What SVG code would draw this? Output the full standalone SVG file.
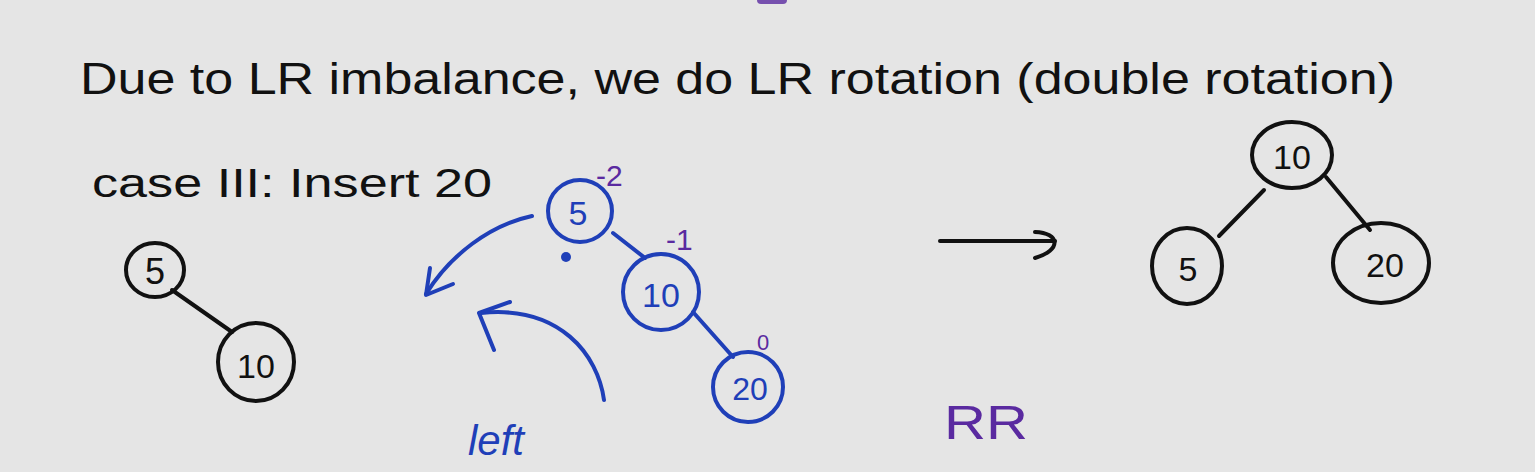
<svg xmlns="http://www.w3.org/2000/svg" width="1535" height="472" viewBox="0 0 1535 472">
<defs>
<style>
.bg{fill:#e5e5e5}
.k{fill:none;stroke:#111;stroke-width:4;stroke-linecap:round}
.b{fill:none;stroke:#1f3fb8;stroke-width:4;stroke-linecap:round;stroke-linejoin:round}
.tk{font-family:"Liberation Sans",Arial,sans-serif;fill:#111}
.tb{font-family:"Liberation Sans",Arial,sans-serif;fill:#1f3fb8}
.tp{font-family:"Liberation Sans",Arial,sans-serif;fill:#5a2aa0}
</style>
</defs>
<rect class="bg" width="1535" height="472"/>
<rect x="757" y="-6" width="30" height="10" rx="4" fill="#5a2aa0" opacity="0.8"/>
<text class="tk" x="80" y="94" font-size="44" textLength="1315" lengthAdjust="spacingAndGlyphs">Due to LR imbalance, we do LR rotation (double rotation)</text>
<text class="tk" x="92" y="197" font-size="40" textLength="400" lengthAdjust="spacingAndGlyphs">case III: Insert 20</text>
<g id="connectors">
<line class="k" x1="172" y1="290" x2="232" y2="332"/>
<line class="b" x1="613" y1="233" x2="645" y2="258"/>
<line class="b" x1="693" y1="312" x2="733" y2="357"/>
<line class="k" x1="1264" y1="190" x2="1219" y2="236"/>
<line class="k" x1="1326" y1="177" x2="1370" y2="230"/>
<path class="b" d="M532,216 C490,225 450,255 426,294"/>
<path class="b" d="M430,268 L426,295 L453,284"/>
<path class="b" d="M604,400 C598,355 560,305 481,313"/>
<path class="b" d="M510,302 L479,313 L494,350"/>
<path class="k" d="M940,241 L1055,241"/>
<path class="k" d="M1035,232 C1060,233 1062,250 1035,258"/>
</g>
<g id="n5a"><ellipse class="k" cx="155" cy="270" rx="29" ry="27"/><text class="tk" x="155" y="284" font-size="36" text-anchor="middle">5</text></g>
<g id="n10a"><ellipse class="k" cx="256" cy="362" rx="38" ry="39"/><text class="tk" x="256" y="378" font-size="34" text-anchor="middle">10</text></g>
<g id="n5b"><ellipse class="b" cx="580" cy="211" rx="32" ry="31"/><text class="tb" x="578" y="225" font-size="34" text-anchor="middle">5</text></g>
<g id="n10b"><ellipse class="b" cx="661" cy="292" rx="38" ry="38"/><text class="tb" x="661" y="307" font-size="34" text-anchor="middle">10</text></g>
<g id="n20b"><ellipse class="b" cx="748" cy="387" rx="35" ry="35"/><text class="tb" x="750" y="400" font-size="32" text-anchor="middle">20</text></g>
<circle cx="566" cy="257" r="5" fill="#1f3fb8"/>
<text class="tp" x="596" y="186" font-size="30">-2</text>
<text class="tp" x="666" y="250" font-size="30">-1</text>
<text class="tp" x="757" y="350" font-size="22">0</text>
<text class="tb" x="468" y="455" font-size="42" font-style="italic">left</text>
<g id="n10c"><ellipse class="k" cx="1292" cy="155" rx="40" ry="33"/><text class="tk" x="1292" y="169" font-size="34" text-anchor="middle">10</text></g>
<g id="n5c"><ellipse class="k" cx="1187" cy="266" rx="35" ry="38"/><text class="tk" x="1188" y="281" font-size="34" text-anchor="middle">5</text></g>
<g id="n20c"><ellipse class="k" cx="1381" cy="263" rx="48" ry="40"/><text class="tk" x="1385" y="277" font-size="34" text-anchor="middle">20</text></g>
<text class="tp" x="944" y="439" font-size="48" textLength="84" lengthAdjust="spacingAndGlyphs">RR</text>
</svg>
